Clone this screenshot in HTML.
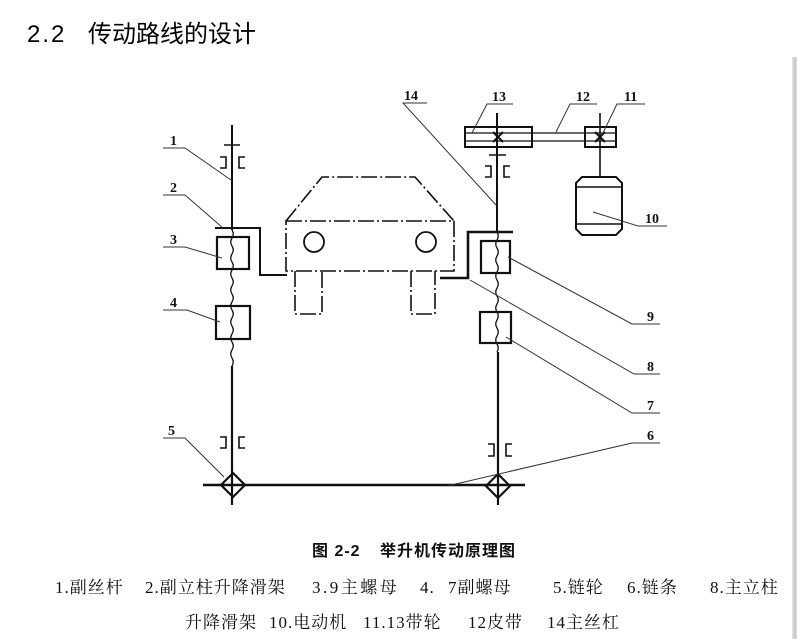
<!DOCTYPE html>
<html><head><meta charset="utf-8"><style>
html,body{margin:0;padding:0;background:#fff;}
body{width:797px;height:639px;position:relative;overflow:hidden;}
.t{position:absolute;white-space:nowrap;line-height:1;color:#111;}
.title{font-family:"Liberation Sans","Noto Sans CJK SC",sans-serif;font-size:24px;top:23px;color:#000;}
.cap{font-family:"Liberation Sans","Noto Sans CJK SC",sans-serif;font-size:16px;font-weight:bold;top:544px;letter-spacing:1px;}
.leg{font-family:"Liberation Serif","Noto Serif CJK SC",serif;font-size:17px;letter-spacing:1px;}
.l1{top:579px;}
.l2{top:614px;}
.bar{position:absolute;left:792px;top:57px;width:5px;height:582px;background:linear-gradient(to right,#e6e6e6,#c8c8c8,#d8d8d8);}
</style></head><body>
<div class="t title" style="left:27px;letter-spacing:2px;">2.2</div>
<div class="t title" style="left:88px;">传动路线的设计</div>

<svg width="797" height="639" style="position:absolute;left:0;top:0" xmlns="http://www.w3.org/2000/svg">
<g fill="none" stroke="#111" stroke-linecap="butt">
<!-- left column -->
<line x1="232" y1="125" x2="232" y2="230" stroke-width="2"/>
<line x1="224" y1="145" x2="240" y2="145" stroke-width="1.5"/>
<path d="M220,157 H226 V168 H220 M245,157 H239 V168 H245" stroke-width="1.6"/>
<path d="M232,230 q2.5,4 0,8 t0,8 t0,8 t0,8 t0,8 t0,8 t0,8 t0,8 t0,8 t0,8 t0,8 t0,8 t0,8 t0,8 t0,8 t0,8 t0,8" stroke-width="1.3"/>
<line x1="232" y1="366" x2="232" y2="505" stroke-width="2.2"/>
<path d="M220,437 H226 V448 H220 M245,437 H239 V448 H245" stroke-width="1.6"/>
<!-- frame 2 -->
<polyline points="215,228 260,228 260,275 287,275" stroke-width="2"/>
<rect x="217" y="237" width="32" height="32" stroke-width="2.2"/>
<rect x="216" y="306" width="34" height="33" stroke-width="2.2"/>
<!-- right column -->
<line x1="497" y1="113" x2="497" y2="232" stroke-width="2"/>
<line x1="489" y1="155" x2="506" y2="155" stroke-width="1.5"/>
<path d="M485,166 H491 V177 H485 M510,166 H504 V177 H510" stroke-width="1.6"/>
<path d="M497,232 q2.5,4 0,8 t0,8 t0,8 t0,8 t0,8 t0,8 t0,8 t0,8 t0,8 t0,8 t0,8 t0,8 t0,8 t0,8 t0,8" stroke-width="1.3"/>
<line x1="498" y1="352" x2="498" y2="505" stroke-width="2.2"/>
<path d="M488,444 H494 V456 H488 M512,444 H506 V456 H512" stroke-width="1.6"/>
<polyline points="513,232 468,232 468,278 440,278" stroke-width="2.6"/>
<rect x="481" y="241" width="29" height="32" stroke-width="2.2"/>
<rect x="480" y="312" width="31" height="31" stroke-width="2.2"/>
<!-- bottom chain -->
<line x1="203" y1="485" x2="525" y2="485" stroke-width="2.4"/>
<path d="M233,473 L245,485 L233,497 L221,485 Z" stroke-width="2.2"/>
<path d="M498,474 L510,486 L498,498 L486,486 Z" stroke-width="2.2"/>
<!-- pulleys -->
<rect x="465" y="127" width="67" height="20" stroke-width="2"/>
<rect x="585" y="127" width="31" height="20" stroke-width="2"/>
<line x1="465" y1="133" x2="616" y2="133" stroke-width="1.3"/>
<line x1="465" y1="141" x2="616" y2="141" stroke-width="1.3"/>
<path d="M493,132 L503,142 M503,132 L493,142" stroke-width="2"/>
<path d="M595,132 L605,142 M605,132 L595,142" stroke-width="2"/>
<line x1="600" y1="113" x2="600" y2="177" stroke-width="1.6"/>
<!-- motor -->
<path d="M582,177 H616 L622,183 V229 L616,235 H582 L576,229 V183 Z" stroke-width="2"/>
<line x1="576" y1="187" x2="622" y2="187" stroke-width="1.5"/>
<line x1="576" y1="224" x2="622" y2="224" stroke-width="1.5"/>
<!-- car -->
<g stroke-width="1.6" stroke-dasharray="16 3 2 3">
<polyline points="286,221 322,177 415,177 454,221"/>
<rect x="286" y="221" width="168" height="50"/>
<polyline points="295,271 295,314 322,314 322,271"/>
<polyline points="411,271 411,314 435,314 435,271"/>
</g>
<circle cx="314" cy="242" r="10" stroke-width="1.8"/>
<circle cx="426" cy="242" r="10" stroke-width="1.8"/>
<!-- leaders -->
<g stroke-width="1" stroke="#333">
<polyline points="163,148 185,148 231,180"/>
<polyline points="163,195 185,195 223,228"/>
<polyline points="163,247 185,247 222,258"/>
<polyline points="163,310 187,310 220,322"/>
<polyline points="163,438 185,438 224,477"/>
<polyline points="660,443 632,443 447,486"/>
<polyline points="660,413 632,413 506,337"/>
<polyline points="660,374 634,374 470,280"/>
<polyline points="660,324 632,324 508,257"/>
<polyline points="667,226 638,226 593,212"/>
<polyline points="645,104 617,104 602,135"/>
<polyline points="597,104 570,104 556,132"/>
<polyline points="513,104 487,104 472,133"/>
<polyline points="427,103 403,103 496,205"/>
</g>
</g>
<g font-family="Liberation Serif, serif" font-weight="bold" font-size="14" fill="#111">
<text x="170" y="145">1</text>
<text x="170" y="192">2</text>
<text x="170" y="244">3</text>
<text x="170" y="307">4</text>
<text x="168" y="435">5</text>
<text x="647" y="440">6</text>
<text x="647" y="410">7</text>
<text x="647" y="371">8</text>
<text x="647" y="321">9</text>
<text x="645" y="223">10</text>
<text x="624" y="101">11</text>
<text x="576" y="101">12</text>
<text x="492" y="101">13</text>
<text x="404" y="100">14</text>
</g>
</svg>

<div class="t cap" style="left:312px;">图 2-2</div>
<div class="t cap" style="left:380px;">举升机传动原理图</div>

<div class="t leg l1" style="left:55px;">1.副丝杆</div>
<div class="t leg l1" style="left:145px;">2.副立柱升降滑架</div>
<div class="t leg l1" style="left:312px;letter-spacing:2.5px;">3.9主螺母</div>
<div class="t leg l1" style="left:420px;">4.</div>
<div class="t leg l1" style="left:448px;">7副螺母</div>
<div class="t leg l1" style="left:553px;">5.链轮</div>
<div class="t leg l1" style="left:627px;">6.链条</div>
<div class="t leg l1" style="left:710px;">8.主立柱</div>

<div class="t leg l2" style="left:185px;">升降滑架</div>
<div class="t leg l2" style="left:269px;">10.电动机</div>
<div class="t leg l2" style="left:363px;">11.13带轮</div>
<div class="t leg l2" style="left:468px;">12皮带</div>
<div class="t leg l2" style="left:547px;">14主丝杠</div>

<div class="bar"></div>
</body></html>
